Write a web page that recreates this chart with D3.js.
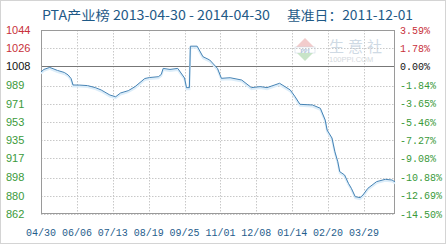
<!DOCTYPE html>
<html><head><meta charset="utf-8">
<script src="https://cdn.jsdelivr.net/npm/d3@7"></script>
<style>body{margin:0;background:#fff}svg{display:block}</style>
</head><body>
<svg id="c" width="446" height="245"></svg>
<script>
const dates = ["2013-04-30","2013-05-03","2013-05-09","2013-05-17","2013-05-24","2013-05-28","2013-05-31","2013-06-02","2013-06-09","2013-06-17","2013-06-25","2013-07-01","2013-07-10","2013-07-16","2013-07-21","2013-07-29","2013-08-05","2013-08-15","2013-08-20","2013-08-29","2013-09-01","2013-09-03","2013-09-10","2013-09-18","2013-09-25","2013-09-27","2013-09-30","2013-10-01","2013-10-08","2013-10-14","2013-10-21","2013-10-29","2013-11-02","2013-11-11","2013-11-23","2013-12-03","2013-12-12","2013-12-19","2014-01-01","2014-01-12","2014-01-17","2014-01-22","2014-02-04","2014-02-12","2014-02-17","2014-02-19","2014-02-24","2014-02-27","2014-03-02","2014-03-04","2014-03-09","2014-03-13","2014-03-16","2014-03-20","2014-03-25","2014-03-28","2014-04-02","2014-04-11","2014-04-20","2014-04-27","2014-04-30"];
const values = [1002.5,1005,1007,1004,1002,999.5,996,989.6,989.5,989,987,984.7,979.7,978,981.7,984,988,996,997,997.8,1000,1006,1005,1006,996.5,987,987,1028,1028,1017.6,1014.3,1006,996.2,996.8,994.5,987,988,987,991.3,984.7,978,970.5,969.8,966.6,955,945,937.2,923.6,913.7,903.9,900.6,892.3,887.4,879.1,878.2,880.8,887.4,894,896.3,895.6,893.7];
const yTicks = [1044,1026,1008,989,971,953,935,917,898,880,862];
const pctTicks = ["3.59%","1.78%","0.00%","-1.84%","-3.65%","-5.46%","-7.27%","-9.08%","-10.88%","-12.69%","-14.50%"];
const xTicks = ["2013-04-30","2013-06-06","2013-07-13","2013-08-19","2013-09-25","2013-11-01","2013-12-08","2014-01-14","2014-02-20","2014-03-29"];
const baseValue = 1008;
const titleMain = "PTA产业榜 2013-04-30 - 2014-04-30";
const titleBase = "基准日：2011-12-01";

const parse = d3.timeParse("%Y-%m-%d");
const svg = d3.select("#c");
const L = 41, R = 395, T = 30, B = 214;

svg.append("rect").attr("x",0.5).attr("y",0.5).attr("width",445).attr("height",243)
  .attr("fill","#fff").attr("stroke","#d4d4d4");

const x = d3.scaleTime().domain([parse("2013-04-30"), parse("2014-04-30")]).range([L, R]);
const y = d3.scaleLinear().domain([862, 1044]).range([B, T]);

// watermark
const wm = svg.append("g").attr("opacity",0.55);
wm.append("path").attr("d","M296,47 L305,38 L314,47 Z").attr("fill","#e9a3a3");
wm.append("rect").attr("x",295).attr("y",47).attr("width",20).attr("height",6).attr("fill","#fff").attr("stroke","#9bb3cc").attr("stroke-width",0.5);
wm.append("text").attr("x",305).attr("y",52.5).attr("text-anchor","middle").attr("font-family","Liberation Serif").attr("font-size",6).attr("font-weight","bold").attr("fill","#6f8fb8").text("PPI");
wm.append("path").attr("d","M297,53 L305,61 L313,53 Z").attr("fill","#9ccf9c");
wm.append("text").attr("x",329).attr("y",52).attr("font-family","Noto Sans CJK SC").attr("font-size",15).attr("fill","#a9bccf").attr("letter-spacing",4).text("生意社");
wm.append("text").attr("x",329).attr("y",62).attr("font-family","Liberation Sans").attr("font-size",7.5).attr("fill","#b0b8c2").text("100PPI.COM");

// grid
const g = svg.append("g");
g.selectAll(".hg").data(yTicks).join("line")
  .attr("x1",L).attr("x2",R).attr("y1",d=>Math.round(y(d))+0.5).attr("y2",d=>Math.round(y(d))+0.5)
  .attr("stroke","#c8c8c8").attr("stroke-dasharray","1.5,1.5");
g.selectAll(".vg").data(xTicks).join("line")
  .attr("y1",T).attr("y2",B).attr("x1",d=>Math.round(x(parse(d)))+0.5).attr("x2",d=>Math.round(x(parse(d)))+0.5)
  .attr("stroke","#c8c8c8").attr("stroke-dasharray","1.5,1.5");

// base line
g.append("line").attr("x1",L).attr("x2",R).attr("y1",Math.round(y(baseValue))+0.5).attr("y2",Math.round(y(baseValue))+0.5)
  .attr("stroke","#777").attr("stroke-width",1);

// frame
svg.append("rect").attr("x",L+0.5).attr("y",T+0.5).attr("width",R-L-1).attr("height",B-T-1)
  .attr("fill","none").attr("stroke","#9a9a9a");

// line
const pts = dates.map((d,i)=>({d:parse(d), v:values[i]}));
const line = d3.line().x(p=>x(p.d)).y(p=>y(p.v));
svg.append("path").datum(pts).attr("d",line).attr("fill","none").attr("stroke","#dcedf9").attr("stroke-width",2).attr("transform","translate(0,1.5)");
svg.append("path").datum(pts).attr("d",line).attr("fill","none").attr("stroke","#4583b5").attr("stroke-width",1);

// left axis labels
svg.selectAll(".yl").data(yTicks).join("text")
  .attr("x",6).attr("y",(d,i)=>y(d)).attr("dy","0.35em")
  .attr("font-family","Liberation Sans").attr("font-size",11)
  .attr("fill",d=>d>baseValue?"#c8303a":(d===baseValue?"#111":"#3a9a3a"))
  .text(d=>d);
// right axis labels
svg.selectAll(".pl").data(pctTicks).join("text")
  .attr("x",400).attr("y",(d,i)=>y(yTicks[i])).attr("dy","0.35em")
  .attr("font-family","Liberation Mono").attr("font-size",10)
  .attr("fill",(d,i)=>yTicks[i]>baseValue?"#c8303a":(yTicks[i]===baseValue?"#111":"#3a9a3a"))
  .text(d=>d);
// x labels
const fmt = d3.timeFormat("%m/%d");
svg.selectAll(".xl").data(xTicks).join("text")
  .attr("x",d=>x(parse(d))).attr("y",232).attr("dy","0.35em").attr("text-anchor","middle")
  .attr("font-family","Liberation Mono").attr("font-size",10).attr("fill","#1f5d8c")
  .text(d=>fmt(parse(d)));

// title
svg.append("text").attr("x",42).attr("y",20).attr("font-family","Noto Sans CJK SC").attr("font-size",13)
  .attr("fill","#1f5a87").attr("textLength",228).attr("lengthAdjust","spacingAndGlyphs").text(titleMain);
svg.append("text").attr("x",287).attr("y",20).attr("font-family","Noto Sans CJK SC").attr("font-size",13)
  .attr("fill","#1f5a87").attr("textLength",126).attr("lengthAdjust","spacingAndGlyphs").text(titleBase);
</script>
</body></html>
